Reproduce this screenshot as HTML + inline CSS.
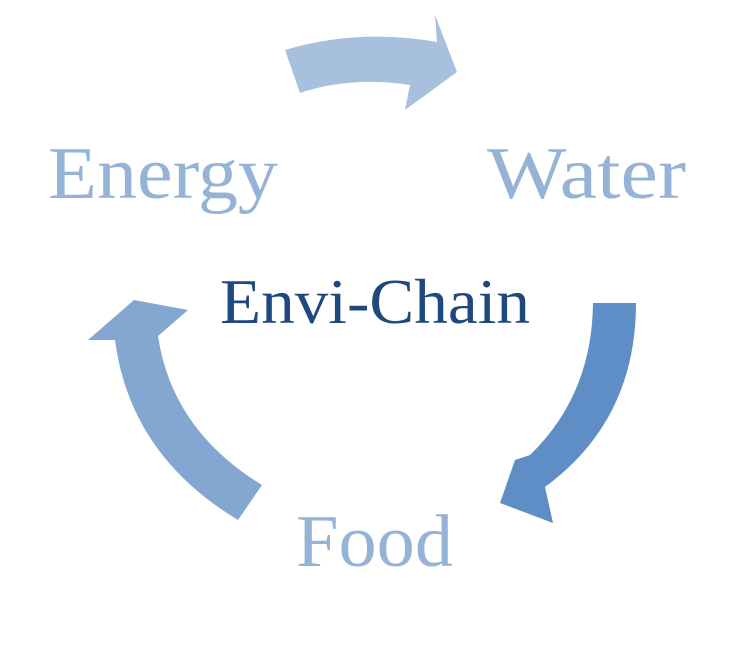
<!DOCTYPE html>
<html><head><meta charset="utf-8"><style>
html,body{margin:0;padding:0;background:#fff;}
body{width:732px;height:669px;position:relative;overflow:hidden;}
svg{position:absolute;left:0;top:0;}
</style></head><body>
<svg width="732" height="669" viewBox="0 0 732 669">
<path d="M285,50 Q360,28 437,42 L435,15 L457,72 L405,110 L410,85 Q350,76 300,93 Z" fill="#a7c0dd"/>
<path d="M593,303 L636,303 Q636,420 545,487 L553,523 L500,503 L515,460 L530,455 Q592,395 593,303 Z" fill="#5f8dc5"/>
<path d="M238,520 Q130,455 115,340 L88,340 L134,300 L188,310 L158,336 Q172,430 262,485 Z" fill="#84a7d2"/>
<g font-family="Liberation Serif, serif">
<text x="48" y="198" font-size="74" fill="#95b3d7" textLength="230" lengthAdjust="spacingAndGlyphs">Energy</text>
<text x="487" y="198" font-size="74" fill="#95b3d7" textLength="199" lengthAdjust="spacingAndGlyphs">Water</text>
<text x="296" y="566" font-size="74" fill="#95b3d7" textLength="157" lengthAdjust="spacingAndGlyphs">Food</text>
<text x="220" y="323" font-size="63" fill="#1f497d" textLength="310" lengthAdjust="spacingAndGlyphs">Envi-Chain</text>
</g>
</svg>
</body></html>
